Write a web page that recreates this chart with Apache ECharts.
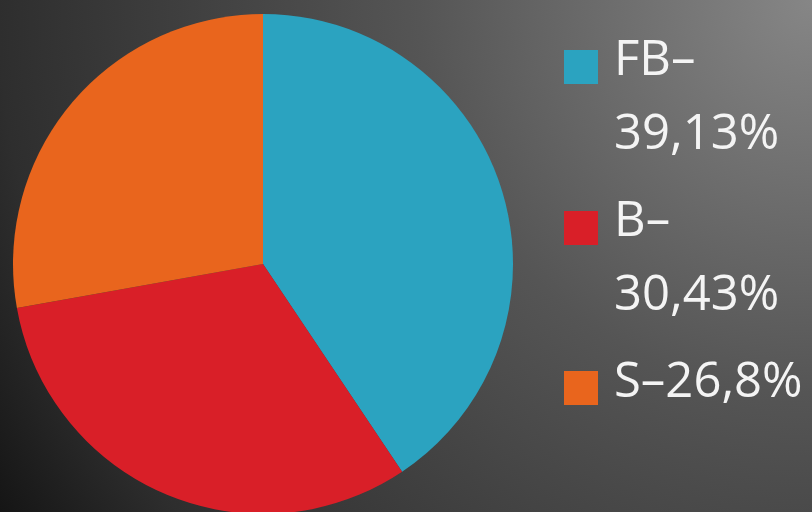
<!DOCTYPE html>
<html>
<head>
<meta charset="utf-8">
<script src="https://cdn.jsdelivr.net/npm/echarts@6/dist/echarts.min.js"></script>
<style>
html,body{margin:0;padding:0;width:812px;height:512px;overflow:hidden;}
#chart{width:812px;height:512px;}
</style>
</head>
<body>
<div id="chart"></div>
<script>
var categories = ['FB', 'B', 'S'];
var values = [39.13, 30.43, 26.8];
var valueLabels = ['39,13%', '30,43%', '26,8%'];
var colors = ['#2ba3c0', '#d91f28', '#e9651d'];

var chart = echarts.init(document.getElementById('chart'), null, {renderer: 'canvas'});

var legendTops = [-38, 123, 346];
var legendWraps = [true, true, false];

var legends = categories.map(function (name, i) {
  return {
    orient: 'vertical',
    left: 564,
    top: legendTops[i],
    padding: 0,
    itemGap: 0,
    itemWidth: 34,
    itemHeight: 34,
    icon: 'rect',
    selectedMode: false,
    data: [name],
    formatter: function (n) {
      var idx = categories.indexOf(n);
      if (legendWraps[idx]) {
        return '{s| }\n{t|' + n + '\u2013}\n{t|' + valueLabels[idx] + '}';
      }
      return '{t|' + n + '\u2013' + valueLabels[idx] + '}\n{e| }';
    },
    textStyle: {
      color: '#f4f4f4',
      fontFamily: 'Open Sans',
      fontSize: 49,
      lineHeight: 74,
      padding: [0, 0, 0, 11],
      rich: {
        s: {fontSize: 2, lineHeight: 62},
        e: {fontSize: 2, lineHeight: 10},
        t: {color: '#f4f4f4', fontFamily: 'Open Sans', fontSize: 49, lineHeight: 74}
      }
    }
  };
});

chart.setOption({
  backgroundColor: {
    type: 'radial',
    x: 1, y: 0, r: 1.875,
    colorStops: [
      {offset: 0, color: '#868686'},
      {offset: 0.41, color: '#555555'},
      {offset: 0.534, color: '#4a4a4a'},
      {offset: 0.847, color: '#2e2e2e'},
      {offset: 1, color: '#151515'}
    ]
  },
  color: colors,
  animation: false,
  legend: legends,
  series: [{
    type: 'pie',
    center: [263, 264],
    radius: 250,
    startAngle: 90,
    clockwise: true,
    label: {show: false},
    labelLine: {show: false},
    emphasis: {disabled: true},
    itemStyle: {borderWidth: 0},
    data: categories.map(function (c, i) {
      return {name: c, value: values[i]};
    })
  }]
});
</script>
</body>
</html>
